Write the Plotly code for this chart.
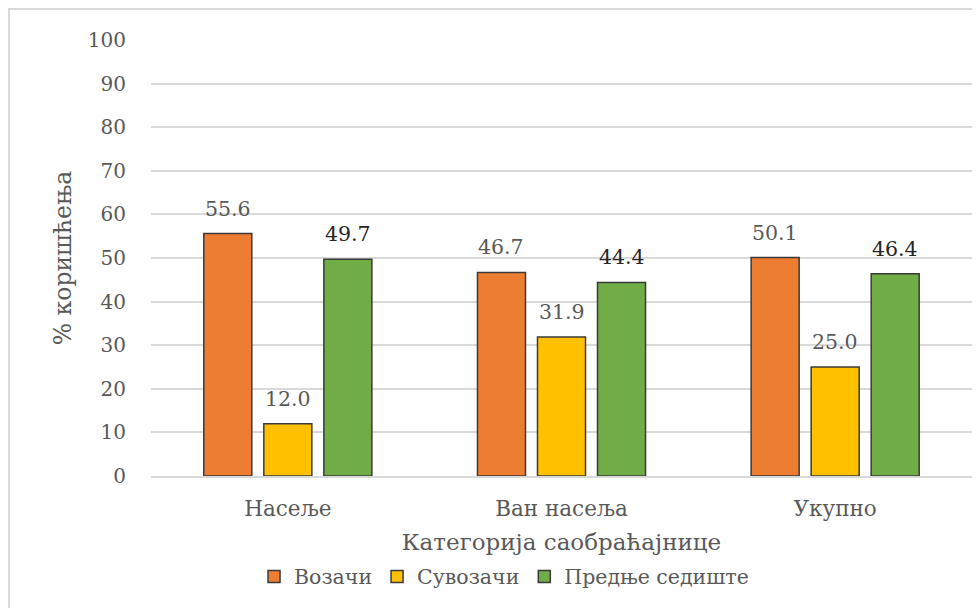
import plotly.graph_objects as go

categories = ["Насеље", "Ван насеља", "Укупно"]
series_names = ["Возачи", "Сувозачи", "Предње седиште"]
vozaci = [55.6, 46.7, 50.1]
suvozaci = [12.0, 31.9, 25.0]
prednje = [49.7, 44.4, 46.4]
series_values = [vozaci, suvozaci, prednje]
colors = ["#ED7D31", "#FFC000", "#70AD47"]
label_colors = ["#595959", "#595959", "#262626"]
y_ticks = [0, 10, 20, 30, 40, 50, 60, 70, 80, 90, 100]

FONT = "DejaVu Serif"

fig = go.Figure()
for name, vals, col in zip(series_names, series_values, colors):
    fig.add_trace(go.Bar(
        name=name, x=categories, y=vals,
        marker=dict(color=col, line=dict(color="#3a3a3a", width=1.5)),
    ))

W, H, L, R, T, B = 972, 600, 143, 8, 32, 132
plot_w = W - L - R
plot_h = H - T - B
cat_w = plot_w / len(categories)
bargap = 0.342
slot = cat_w * (1 - bargap) / len(series_names)
for si, (vals, lc) in enumerate(zip(series_values, label_colors)):
    off = (si - (len(series_names) - 1) / 2) * slot
    for c, v in zip(categories, vals):
        fig.add_annotation(x=c, y=v, text=f"{v:.1f}", showarrow=False,
                           xshift=off, yshift=25, yanchor="middle",
                           font=dict(family=FONT, size=20.5, color=lc))

# outer chart border (light grey), 1px inside the figure edge
fig.add_shape(type="rect", xref="paper", yref="paper",
              x0=(1 - L) / plot_w, x1=1.2, y0=-0.5, y1=(plot_h + T - 1) / plot_h,
              line=dict(color="#d9d9d9", width=2), fillcolor="rgba(0,0,0,0)")

fig.update_layout(
    width=W, height=H,
    margin=dict(l=L, r=R, t=T, b=B),
    paper_bgcolor="white", plot_bgcolor="white",
    barmode="group", bargap=bargap, bargroupgap=0.2,
    font=dict(family=FONT, color="#595959"),
    showlegend=True,
    legend=dict(orientation="h", x=0.43, xanchor="center", y=-0.185, yanchor="top",
                font=dict(family=FONT, size=20.5, color="#595959"),
                itemwidth=30, tracegroupgap=0),
    xaxis=dict(title=dict(text="Категорија саобраћајнице", font=dict(size=23, color="#595959"), standoff=14),
               tickfont=dict(size=21.5, color="#595959"), showline=True, linecolor="#d9d9d9",
               linewidth=1.5, ticks="outside", ticklen=12, tickcolor="rgba(0,0,0,0)", showgrid=False),
    yaxis=dict(title=dict(text="% коришћења", font=dict(size=23.5, color="#595959"), standoff=9),
               range=[0, 100], tickvals=y_ticks, tickfont=dict(size=20, color="#595959"),
               showgrid=True, gridcolor="#d9d9d9", gridwidth=1.5, zeroline=False,
               ticks="outside", ticklen=20, tickcolor="rgba(0,0,0,0)", showline=False),
)

fig.write_html("out.html")
